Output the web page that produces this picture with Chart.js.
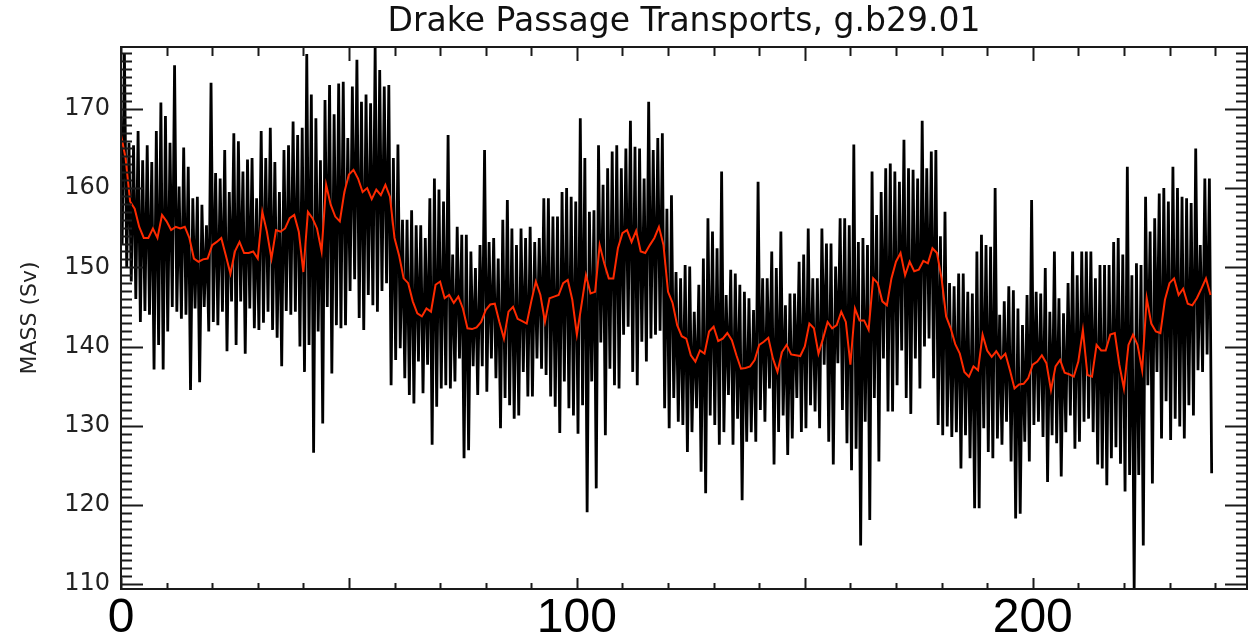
<!DOCTYPE html>
<html>
<head>
<meta charset="utf-8">
<title>Drake Passage Transports</title>
<script src="https://cdn.jsdelivr.net/npm/chart.js@4.4.1/dist/chart.umd.min.js"></script>
<style>
  html, body { margin: 0; padding: 0; background: #fff; }
  canvas { display: block; }
</style>
</head>
<body>
<canvas id="grafik" width="1250" height="636"></canvas>
<script>
// annual mean transport (red), one value per model year 0..239
const rataTahunan = [
  166.7,163.8,158.3,157.4,155.1,153.7,153.7,154.9,153.7,156.6,155.8,154.7,155.1,154.9,155.1,153.7,151.1,150.7,151.0,151.1,
  152.8,153.2,153.7,151.5,149.2,152.0,153.2,151.8,151.8,152.0,151.1,157.0,154.5,151.1,154.7,154.5,154.9,156.2,156.6,154.5,
  149.4,157.0,156.2,154.9,152.0,160.4,157.9,156.4,155.8,
  159.5,161.7,162.3,161.2,159.5,160.0,158.6,159.8,159.1,160.4,158.9,153.7,151.5,148.6,148.0,145.7,144.2,143.8,144.8,144.4,
  147.8,148.2,146.1,146.5,145.5,146.3,144.8,142.3,142.2,142.4,143.1,144.6,145.3,145.4,143.1,141.0,144.4,145.0,143.5,143.2,
  142.9,145.7,148.2,146.5,143.1,146.1,146.3,146.5,
  148.0,148.4,145.9,141.5,145.2,149.0,146.7,146.9,152.8,150.5,148.6,148.6,152.4,154.3,154.7,153.2,154.6,152.0,151.8,152.8,
  153.7,155.1,152.8,146.9,145.5,142.7,141.3,141.0,138.9,138.1,139.5,139.1,141.9,142.5,140.7,141.0,141.7,140.8,138.9,137.2,
  137.3,137.5,138.3,140.2,140.6,141.1,138.5,136.8,
  139.3,140.2,139.0,138.9,138.8,140.0,142.9,142.3,139.1,141.0,143.1,142.3,142.7,144.4,143.1,137.7,144.8,143.3,143.3,142.1,
  148.6,148.0,145.7,145.2,148.6,150.7,151.8,149.0,150.7,149.5,149.7,150.8,150.5,152.4,151.8,148.6,143.8,142.3,140.3,139.1,
  136.8,136.2,137.5,137.0,141.5,139.5,138.7,139.4,
  138.5,139.1,137.0,134.7,135.2,135.3,136.0,137.7,138.1,138.9,137.9,134.5,137.5,138.3,136.7,136.5,136.2,138.1,142.1,136.4,
  136.2,140.2,139.5,139.5,141.5,141.7,137.7,134.7,140.2,141.5,140.2,137.0,146.1,142.9,141.9,141.7,145.9,148.0,148.6,146.5,
  147.3,145.4,145.2,146.1,147.3,148.6,146.5
];

// highest monthly value in each year (black)
const bulananMaks = [
  177.5,177.0,165.7,165.4,167.2,163.5,165.4,163.3,167.2,170.8,169.1,165.7,175.5,160.2,165.1,162.7,158.7,158.9,157.9,155.3,
  173.3,161.9,161.2,164.8,159.5,166.9,165.9,162.1,163.6,163.8,158.7,167.2,163.8,167.6,163.3,159.5,164.8,165.4,168.4,166.7,
  167.6,176.9,171.8,168.8,163.5,171.1,173.0,169.3,173.2,
  173.4,166.3,172.8,176.2,170.9,171.8,170.7,177.7,174.9,172.8,173.0,163.8,165.5,156.0,156.0,157.2,155.3,155.3,153.7,158.7,
  161.2,159.8,158.3,166.7,151.6,155.1,154.1,154.1,152.0,149.9,152.8,164.8,153.2,153.7,151.1,156.0,158.5,154.9,152.8,154.9,
  153.7,155.1,153.2,153.7,158.7,158.7,156.4,156.4,
  159.5,160.0,158.9,158.3,168.8,163.8,157.0,157.2,165.4,160.4,162.5,164.6,165.4,162.5,165.0,168.5,165.2,165.0,161.2,170.9,
  164.8,166.3,166.9,157.4,159.1,149.4,148.6,150.3,150.1,144.4,147.8,151.1,156.2,154.5,152.4,162.1,146.5,149.7,149.2,147.8,
  146.9,146.1,144.6,160.8,148.6,148.6,152.0,149.9,
  154.5,145.2,146.7,146.7,150.7,151.6,154.9,148.6,148.6,154.9,153.0,153.0,150.1,156.2,156.2,155.3,165.5,153.2,153.7,152.8,
  162.1,156.6,159.5,162.5,163.1,162.1,160.8,166.1,162.5,162.3,161.2,168.5,162.5,164.6,164.8,153.9,157.0,148.0,147.6,149.2,
  149.2,146.9,146.7,152.0,154.1,152.8,152.6,160.0,
  144.0,145.7,147.6,147.1,144.8,142.7,146.5,158.5,146.9,146.7,149.9,144.4,152.0,146.1,144.2,148.0,152.0,149.0,152.0,152.0,
  152.0,148.6,150.3,150.3,150.3,153.2,153.7,151.6,162.7,149.0,150.5,150.3,158.9,154.5,156.2,159.3,160.0,158.3,162.7,160.0,
  158.9,158.7,158.1,165.0,152.8,161.2,161.2
];

// lowest monthly value in each year (black)
const bulananMin = [
  152.8,150.0,148.2,146.0,143.1,144.5,144.0,137.1,140.2,137.1,141.9,145.0,144.4,143.5,144.0,134.5,144.8,135.5,145.0,141.9,
  143.1,142.7,144.4,139.4,145.7,140.2,145.7,139.1,144.8,142.3,142.1,143.0,144.4,142.1,141.1,137.5,144.5,144.0,144.4,140.0,
  136.8,140.2,126.6,141.9,130.3,145.0,136.6,142.7,142.3,
  142.7,147.0,148.5,143.6,142.1,146.5,145.2,144.4,147.0,148.0,135.1,138.3,139.8,136.0,133.9,132.8,138.1,134.1,137.7,127.6,
  132.4,134.7,135.1,134.7,135.6,138.5,125.9,126.9,137.5,133.9,137.5,134.3,138.5,136.0,129.7,133.5,132.6,130.9,131.3,136.8,
  133.7,133.7,138.5,137.2,136.4,133.7,132.4,129.1,
  135.6,132.2,131.3,129.0,132.6,119.1,135.6,122.1,140.5,128.8,137.2,135.1,134.7,141.5,142.5,136.8,135.1,140.6,138.1,141.0,
  141.5,142.0,132.2,129.7,133.5,130.5,130.1,126.7,129.2,132.2,124.2,121.5,131.3,130.1,127.6,129.2,133.9,127.6,130.9,120.6,
  128.0,129.2,128.0,132.0,130.5,134.7,125.1,129.2,
  131.3,126.3,128.4,133.5,129.2,129.7,132.6,131.8,129.7,137.7,128.0,125.1,137.9,132.0,127.8,124.4,127.1,114.9,130.5,118.1,
  133.5,125.5,138.5,131.8,131.8,135.1,139.5,133.5,131.5,138.5,134.7,140.0,141.0,136.0,130.1,128.8,129.9,128.6,129.2,124.6,
  128.8,125.9,119.6,119.6,129.7,126.7,125.9,128.4,
  127.6,130.5,125.5,118.3,118.9,128.0,125.5,130.1,130.5,128.6,122.9,128.8,127.8,123.6,129.2,131.3,127.1,128.0,130.5,130.9,
  129.2,125.1,124.6,122.5,125.9,127.3,125.2,121.7,123.8,109.5,123.8,114.9,135.1,122.7,136.8,128.4,133.1,128.2,130.9,129.9,
  128.4,132.6,131.3,137.0,136.8,139.0,124.0
];

const labelX = [0, 100, 200];
const labelY = [110, 120, 130, 140, 150, 160, 170];

// black line: zigzag between each year's max and min
const titikBulanan = [];
bulananMaks.forEach((v, i) => {
  titikBulanan.push({ x: i - 0.25, y: v });
  titikBulanan.push({ x: i + 0.25, y: bulananMin[i] });
});
const titikTahunan = rataTahunan.map((v, i) => ({ x: i, y: v }));

// frame and inward tick marks, IDL style
const bingkai = {
  id: 'bingkai',
  afterDraw(chart) {
    const { ctx, chartArea: a, scales: { x, y } } = chart;
    ctx.save();
    ctx.strokeStyle = '#1a1a1a';
    ctx.lineWidth = 2;
    ctx.strokeRect(a.left, a.top, a.right - a.left, a.bottom - a.top);
    ctx.beginPath();
    for (let v = 110; v <= 177; v++) {
      const py = Math.round(y.getPixelForValue(v)) + 0.5;
      const len = v % 10 === 0 ? 22 : 11;
      ctx.moveTo(a.left, py); ctx.lineTo(a.left + len, py);
      ctx.moveTo(a.right, py); ctx.lineTo(a.right - len, py);
    }
    for (let v = 0; v <= 240; v += 10) {
      const px = Math.round(x.getPixelForValue(v)) + 0.5;
      const major = v % 50 === 0;
      ctx.moveTo(px, a.bottom); ctx.lineTo(px, a.bottom - (major ? 11 : 6));
      ctx.moveTo(px, a.top); ctx.lineTo(px, a.top + (major ? 14 : 9));
    }
    ctx.stroke();
    ctx.restore();
  }
};

new Chart(document.getElementById('grafik').getContext('2d'), {
  type: 'line',
  data: {
    datasets: [{
      label: 'tahunan',
      data: titikTahunan,
      borderColor: '#ff2a00',
      borderWidth: 2,
      pointRadius: 0,
      tension: 0,
      order: 0
    }, {
      label: 'bulanan',
      data: titikBulanan,
      borderColor: '#000',
      borderWidth: 2.8,
      borderJoinStyle: 'bevel',
      pointRadius: 0,
      tension: 0,
      order: 1
    }]
  },
  options: {
    responsive: false,
    animation: false,
    layout: { padding: { left: 0, right: 3, top: 0, bottom: 0 } },
    plugins: {
      legend: { display: false },
      tooltip: { enabled: false },
      title: {
        display: true,
        text: 'Drake Passage Transports, g.b29.01',
        fullSize: false,
        color: '#111',
        font: { family: 'DejaVu Sans', size: 33, weight: 'normal' },
        padding: { top: 3, bottom: 4.4 }
      }
    },
    scales: {
      x: {
        type: 'linear',
        min: 0,
        max: 247,
        grid: { display: false, drawTicks: false },
        border: { display: false },
        afterBuildTicks: s => { s.ticks = labelX.map(v => ({ value: v })); },
        afterFit: s => { s.height = 47; },
        ticks: {
          autoSkip: false,
          maxRotation: 0,
          padding: 1,
          color: '#000',
          font: { family: 'Liberation Sans', size: 48 }
        }
      },
      y: {
        min: 109.4,
        max: 177.8,
        grid: { display: false, drawTicks: false },
        border: { display: false },
        afterBuildTicks: s => { s.ticks = labelY.map(v => ({ value: v })); },
        afterFit: s => { s.width = 121; },
        ticks: {
          padding: 11,
          color: '#222',
          font: { family: 'DejaVu Sans', size: 24 }
        },
        title: {
          display: true,
          text: 'MASS (Sv)',
          color: '#222',
          font: { family: 'DejaVu Sans', size: 22 },
          padding: { top: 17, bottom: 0 }
        }
      }
    }
  },
  plugins: [bingkai]
});
</script>
</body>
</html>
